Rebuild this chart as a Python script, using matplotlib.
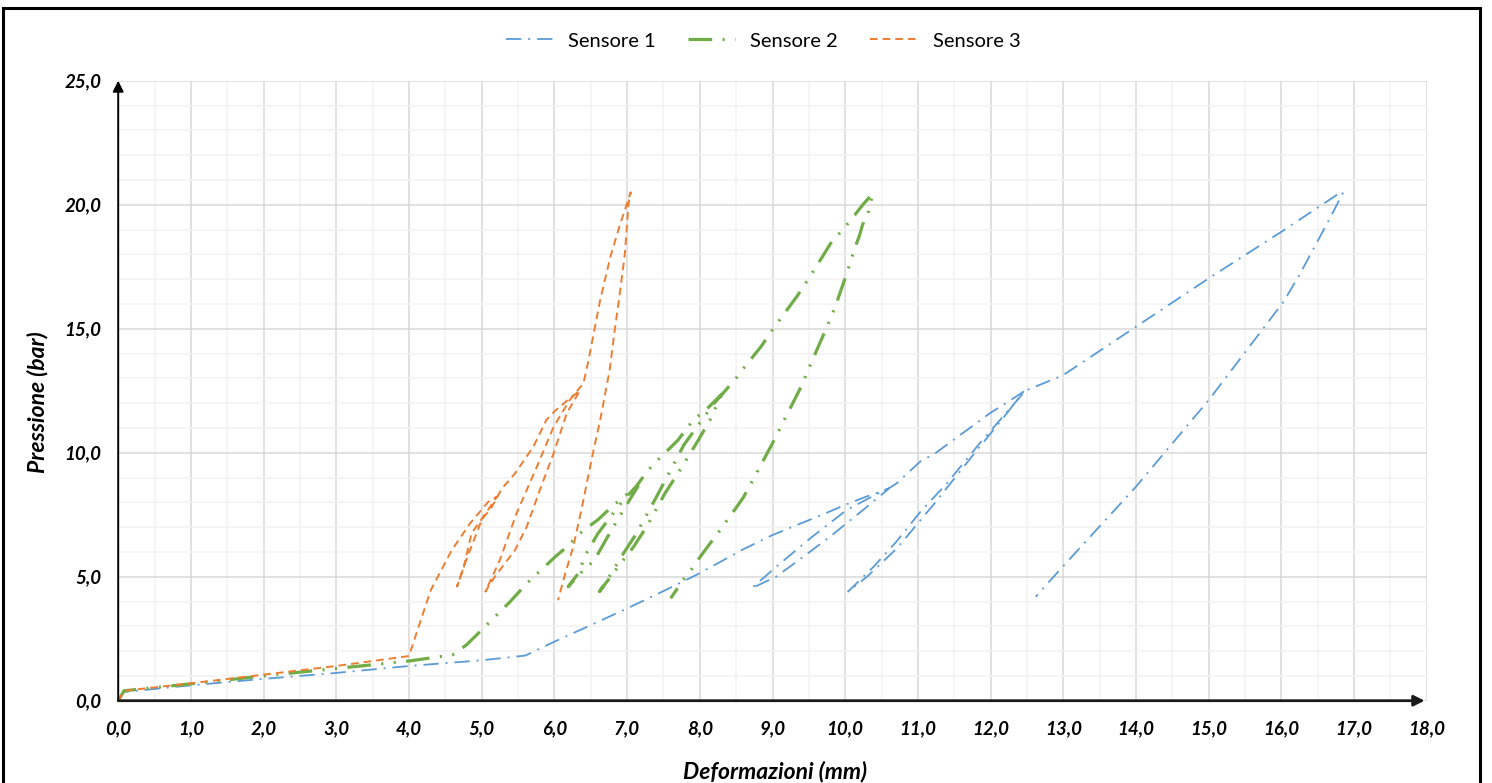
import matplotlib
matplotlib.use("Agg")
import matplotlib.pyplot as plt
from matplotlib.patches import Rectangle
from matplotlib.ticker import MultipleLocator, FuncFormatter

plt.rcParams["font.family"] = ["Lato", "DejaVu Sans"]
plt.rcParams["lines.scale_dashes"] = False

# Sensore 1: deformation (mm) / pressure (bar), in acquisition order
s1_x = [0.0, 0.08, 1.0, 2.0, 3.0, 4.0, 5.0, 5.6, 6.0, 6.45, 7.0, 7.5, 8.0, 8.58, 9.0, 9.3, 9.7, 10.02, 10.3, 10.6,
        10.3, 9.79, 9.33, 9.05, 8.71,
        9.08, 9.52, 10.02, 10.35, 10.62,
        10.71, 11.03, 11.24, 11.99, 12.45,
        12.2, 11.76, 11.21, 10.71, 10.3, 10.04,
        10.39, 10.7, 11.03, 11.40, 11.85, 12.48,
        13.0, 14.0, 15.0, 16.0, 16.76, 16.85,
        16.69, 16.26, 16.03, 15.0, 14.0, 12.95, 12.62]
s1_y = [0.0, 0.35, 0.62, 0.88, 1.12, 1.40, 1.63, 1.82, 2.38, 2.98, 3.72, 4.42, 5.14, 6.08, 6.68, 7.04, 7.52, 7.92, 8.24, 8.55,
        7.82, 6.61, 5.60, 5.0, 4.53,
        5.47, 6.55, 7.69, 8.2, 8.6,
        8.77, 9.64, 9.98, 11.59, 12.45,
        11.5, 9.91, 7.89, 6.14, 5.0, 4.4,
        5.40, 6.4, 7.6, 8.77, 10.38, 12.5,
        13.13, 15.08, 17.03, 18.91, 20.39, 20.5,
        19.58, 17.23, 16.09, 12.12, 8.63, 5.27, 4.19]

# Sensore 2
s2_x = [0.0, 0.08, 1.0, 2.0, 3.0, 4.0, 4.6, 4.79, 4.93, 5.16, 5.39, 5.62, 5.89, 6.01, 6.15, 6.38, 6.6, 6.79, 7.04, 7.15,
        6.88, 6.72, 6.63, 6.54, 6.40, 6.19,
        6.32, 6.44, 6.60, 6.93, 7.13,
        7.23, 7.35, 7.48, 7.70, 7.80, 7.92, 8.07, 8.3,
        8.14, 7.98, 7.70, 7.52, 7.27, 7.09, 6.85, 6.62,
        6.76, 6.95, 7.13, 7.38, 7.54, 7.78, 7.98, 8.2, 8.32,
        8.51, 8.62, 8.84, 9.03, 9.34, 9.52, 9.80, 10.02, 10.13, 10.24, 10.38,
        10.32, 10.24, 10.19, 10.13, 10.03, 9.86, 9.73, 9.52, 9.39, 9.15, 9.0, 8.76, 8.6, 8.5, 8.39, 8.28,
        8.09, 7.99, 7.89, 7.77, 7.60]
s2_y = [0.0, 0.4, 0.68, 1.0, 1.3, 1.6, 1.85, 2.25, 2.65, 3.32, 3.99, 4.73, 5.47, 5.8, 6.15, 6.82, 7.3, 7.82, 8.43, 8.65,
        7.35, 6.55, 6.08, 5.63, 5.27, 4.6,
        5.1, 5.94, 6.75, 8.02, 8.66,
        9.06, 9.5, 9.87, 10.51, 10.9, 11.35, 11.69, 12.35,
        11.32, 10.51, 9.17, 8.36, 7.02, 6.21, 5.3, 4.4,
        5.03, 5.94, 6.75, 8.09, 8.97, 10.31, 11.12, 12.0, 12.4,
        13.04, 13.47, 14.27, 15.08, 16.32, 17.12, 18.44, 19.18, 19.58, 19.99, 20.46,
        19.72, 19.2, 18.7, 18.24, 17.3, 15.86, 14.95, 13.54, 12.64, 11.25, 10.38, 9.06, 8.2, 7.78, 7.34, 6.88,
        6.14, 5.74, 5.31, 4.87, 4.13]

# Sensore 3
s3_x = [0.0, 0.08, 1.0, 2.0, 3.0, 4.0, 4.17, 4.3, 4.59, 4.84, 5.09, 5.21,
        5.07, 4.86, 4.75, 4.66,
        4.77, 5.0, 5.14, 5.28,
        5.46, 5.71, 5.89, 6.01, 6.21, 6.35,
        6.17, 5.99, 5.80, 5.62, 5.46, 5.18, 5.05,
        5.25, 5.48, 5.76, 5.99, 6.21, 6.40,
        6.47, 6.63, 6.77, 6.90, 7.05,
        7.02, 6.97, 6.90, 6.83, 6.76, 6.63, 6.51, 6.38, 6.26, 6.15, 6.05]
s3_y = [0.0, 0.4, 0.7, 1.05, 1.4, 1.8, 3.32, 4.46, 6.08, 7.15, 8.02, 8.23,
        7.62, 6.75, 5.34, 4.6,
        5.54, 7.29, 7.82, 8.56,
        9.17, 10.24, 11.32, 11.69, 12.19, 12.5,
        11.59, 9.98, 8.5, 7.02, 6.08, 5.0, 4.4,
        5.67, 7.56, 9.44, 11.05, 12.12, 12.8,
        13.74, 16.16, 17.9, 19.18, 20.5,
        20.06, 18.04, 16.43, 14.95, 13.33, 11.32, 9.71, 7.82, 6.21, 5.14, 4.06]

W, H = 1492, 783
fig = plt.figure(figsize=(W / 100, H / 100), dpi=100)
x0, x1, y0, y1 = 118.2, 1426.8, 700.7, 80.7
ax = fig.add_axes([x0 / W, 1 - y0 / H, (x1 - x0) / W, (y0 - y1) / H])

ax.plot(s1_x, s1_y, color="#5B9BD5", lw=1.3, dashes=(11, 5, 1.4, 5), label="Sensore 1")
ax.plot(s2_x, s2_y, color="#70AD47", lw=2.3, dashes=(17, 7.5, 1.5, 7.5, 1.5, 7.5), label="Sensore 2")
ax.plot(s3_x, s3_y, color="#ED7D31", lw=1.4, dashes=(5.5, 3.6), label="Sensore 3")

ax.set_xlim(0, 18)
ax.set_ylim(0, 25)
ax.xaxis.set_major_locator(MultipleLocator(1))
ax.xaxis.set_minor_locator(MultipleLocator(0.5))
ax.yaxis.set_major_locator(MultipleLocator(5))
ax.yaxis.set_minor_locator(MultipleLocator(1))
ax.grid(which="major", color="#D9D9D9", lw=1.1)
ax.grid(which="minor", color="#F2F2F2", lw=1.1)
ax.set_axisbelow(True)
for sp in ax.spines.values():
    sp.set_visible(False)

comma = FuncFormatter(lambda v, _: f"{v:.1f}".replace(".", ","))
ax.xaxis.set_major_formatter(comma)
ax.yaxis.set_major_formatter(comma)
ax.tick_params(which="both", length=0)
ax.tick_params(axis="x", pad=14)
ax.tick_params(axis="y", pad=12)
for lab in ax.get_xticklabels() + ax.get_yticklabels():
    lab.set_fontsize(13.5)
    lab.set_fontweight("bold")
    lab.set_fontstyle("italic")

# axis lines with arrow heads
ax.annotate("", xy=(0, 25), xytext=(0, 0), xycoords="data",
            arrowprops=dict(arrowstyle="-|>", color="black", lw=1.4, shrinkA=0, shrinkB=0,
                            mutation_scale=16), annotation_clip=False)
ax.annotate("", xy=(17.97, 0), xytext=(0, 0), xycoords="data",
            arrowprops=dict(arrowstyle="-|>", color="#1a1a1a", lw=2.0, shrinkA=0, shrinkB=0,
                            mutation_scale=16), annotation_clip=False)

fig.text(775 / W, 1 - 772 / H, "Deformazioni (mm)", ha="center", va="center",
         fontsize=16.5, fontweight="bold", fontstyle="italic")
fig.text(38 / W, 1 - 402 / H, "Pressione (bar)", ha="center", va="center", rotation=90,
         fontsize=16.5, fontweight="bold", fontstyle="italic")

fig.legend(loc="center", bbox_to_anchor=(763 / W, 1 - 41 / H), ncol=3, frameon=False,
           fontsize=14.5, handlelength=2.35, columnspacing=1.6, handletextpad=0.75)

fig.patches.append(Rectangle((3 / W, -0.05), 1477 / W, 1.05 - 8 / H, transform=fig.transFigure,
                             fill=False, ec="black", lw=2.2))

fig.savefig("out.png", dpi=100)
